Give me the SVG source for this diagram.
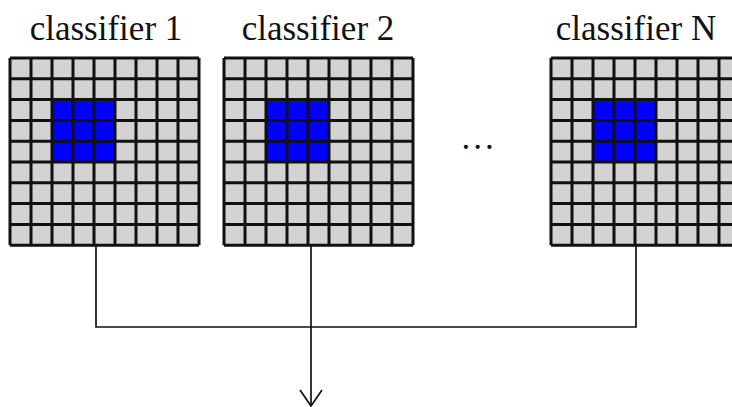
<svg xmlns="http://www.w3.org/2000/svg" xmlns:xlink="http://www.w3.org/1999/xlink" width="732" height="407" viewBox="0 0 732 407">
<style>
.lbl{font-family:"Liberation Serif","Times New Roman",serif;font-size:35px;fill:#111;text-anchor:middle}
.cell{fill:#d3d3d3}
.hot{fill:#0000ff}
.gl{fill:none;stroke:#111;stroke-width:3}
.conn{fill:none;stroke:#111;stroke-width:1.7}
</style>
<defs>
<marker id="arr" viewBox="0 0 20 24" refX="18" refY="12" markerWidth="20" markerHeight="24" markerUnits="userSpaceOnUse" orient="auto">
<path d="M2,1 L18,12 L2,23" fill="none" stroke="#111" stroke-width="1.7"/>
</marker>
<g id="grid">
<rect class="cell" x="0" y="0" width="189" height="187.2"/>
<rect class="hot" x="42" y="41.6" width="63" height="62.4"/>
<path class="gl" d="M0,0V187.2M21,0V187.2M42,0V187.2M63,0V187.2M84,0V187.2M105,0V187.2M126,0V187.2M147,0V187.2M168,0V187.2M189,0V187.2M0,0H189M0,20.8H189M0,41.6H189M0,62.4H189M0,83.2H189M0,104H189M0,124.8H189M0,145.6H189M0,166.4H189M0,187.2H189"/>
</g>
</defs>
<rect width="732" height="407" fill="#fff"/>
<g id="connectors">
<path class="conn" d="M96,246V327H636V246"/>
<path class="conn" d="M311,246V406" marker-end="url(#arr)"/>
</g>
<g id="classifier1">
<use xlink:href="#grid" x="10" y="58"/>
<text class="lbl" x="106" y="40">classifier 1</text>
</g>
<g id="classifier2">
<use xlink:href="#grid" x="224" y="58"/>
<text class="lbl" x="318" y="40">classifier 2</text>
</g>
<g id="ellipsis">
<text class="lbl" x="479" y="149" style="letter-spacing:3px">...</text>
</g>
<g id="classifierN">
<use xlink:href="#grid" x="551" y="58"/>
<text class="lbl" x="636" y="40">classifier N</text>
</g>
</svg>
